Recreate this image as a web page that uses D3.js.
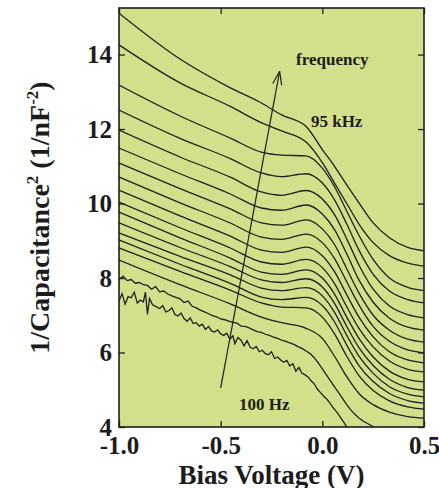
<!DOCTYPE html>
<html>
<head>
<meta charset="utf-8">
<script src="https://cdn.jsdelivr.net/npm/d3@7"></script>
<style>
  body { margin: 0; background: #fff; }
  svg text { font-family: "Liberation Serif", "Times New Roman", serif; font-weight: bold; fill: #1c1c1c; }
</style>
</head>
<body>
<svg width="439" height="488"></svg>
<script>
// bias grid for the smooth curves (V)
var biasV = [-1.0, -0.7, -0.45, -0.3, -0.2, -0.08, 0.0, 0.06, 0.12, 0.18, 0.25, 0.33, 0.42, 0.5];

// 1/C^2 curves, 95 kHz at the top down towards low frequency
var c0  = [15.11, 13.88, 13.10, 12.70, 12.38, 12.07, 11.45, 11.00, 10.50, 10.02, 9.48, 9.08, 8.82, 8.73];
var c1  = [14.26, 13.24, 12.60, 12.17, 11.95, 11.65, 11.10, 10.55, 10.00, 9.45, 8.95, 8.60, 8.40, 8.32];
var c2  = [13.18, 12.35, 11.75, 11.38, 11.30, 11.28, 10.95, 10.45, 9.80, 9.15, 8.50, 8.00, 7.75, 7.66];
var c3  = [12.51, 11.75, 11.20, 10.82, 10.72, 10.80, 10.55, 10.10, 9.45, 8.75, 8.10, 7.65, 7.42, 7.33];
var c4  = [11.97, 11.25, 10.70, 10.31, 10.22, 10.35, 10.12, 9.70, 9.05, 8.35, 7.70, 7.25, 7.02, 6.93];
var c5  = [11.49, 10.80, 10.25, 9.88, 9.82, 9.96, 9.72, 9.30, 8.65, 7.95, 7.35, 6.92, 6.68, 6.60];
var c6  = [11.09, 10.40, 9.85, 9.48, 9.42, 9.56, 9.32, 8.90, 8.25, 7.60, 7.00, 6.60, 6.36, 6.28];
var c7  = [10.71, 10.02, 9.47, 9.10, 9.04, 9.18, 8.95, 8.52, 7.90, 7.28, 6.70, 6.30, 6.07, 5.99];
var c8  = [10.36, 9.67, 9.12, 8.75, 8.69, 8.83, 8.60, 8.17, 7.55, 6.95, 6.42, 6.02, 5.80, 5.72];
var c9  = [10.04, 9.35, 8.80, 8.43, 8.37, 8.50, 8.28, 7.85, 7.23, 6.65, 6.15, 5.77, 5.55, 5.48];
var c10 = [9.77, 9.08, 8.53, 8.16, 8.10, 8.22, 8.00, 7.57, 6.95, 6.38, 5.88, 5.50, 5.28, 5.21];
var c11 = [9.48, 8.82, 8.30, 7.95, 7.88, 7.98, 7.76, 7.32, 6.70, 6.13, 5.65, 5.28, 5.06, 4.99];
var c12 = [9.21, 8.58, 8.08, 7.73, 7.66, 7.74, 7.52, 7.08, 6.46, 5.90, 5.44, 5.08, 4.88, 4.81];
var c13 = [9.02, 8.37, 7.85, 7.49, 7.42, 7.48, 7.26, 6.82, 6.20, 5.65, 5.22, 4.90, 4.71, 4.64];
var c14 = [8.81, 8.18, 7.67, 7.33, 7.22, 7.20, 6.95, 6.50, 5.90, 5.38, 4.98, 4.70, 4.54, 4.48];
var c15 = [8.48, 7.82, 7.30, 6.95, 6.80, 6.65, 6.38, 5.90, 5.35, 4.90, 4.60, 4.40, 4.28, 4.24];
var smoothCurves = [c0, c1, c2, c3, c4, c5, c6, c7, c8, c9, c10, c11, c12, c13, c14, c15];

// the two noisy low frequency traces
var biasN1 = [-1.00,-0.98,-0.96,-0.94,-0.92,-0.90,-0.88,-0.86,-0.84,-0.82,-0.80,-0.78,-0.76,-0.74,-0.72,-0.70,-0.68,-0.66,-0.64,-0.62,-0.60,-0.58,-0.56,-0.54,-0.52,-0.50,-0.48,-0.46,-0.44,-0.42,-0.40,-0.38,-0.36,-0.34,-0.32,-0.30,-0.28,-0.26,-0.24,-0.22,-0.20,-0.18,-0.16,-0.14,-0.12,-0.10,-0.08,-0.06,-0.04,-0.02,0.00,0.02,0.04,0.06,0.08,0.10,0.12,0.14,0.16,0.18,0.20,0.22,0.24,0.26];
var c16 = [7.96,8.05,7.93,7.96,7.86,7.88,7.82,7.80,7.70,7.77,7.63,7.65,7.57,7.52,7.48,7.44,7.34,7.38,7.24,7.20,7.14,7.09,7.04,6.99,6.96,6.90,6.88,6.84,6.81,6.79,6.71,6.70,6.66,6.61,6.56,6.54,6.49,6.46,6.41,6.38,6.33,6.30,6.26,6.22,6.16,6.11,6.04,5.97,5.86,5.72,5.56,5.40,5.24,5.08,4.92,4.76,4.60,4.46,4.34,4.24,4.16,4.10,4.04,3.98];

var biasN2 = [-1.000,-0.985,-0.970,-0.955,-0.940,-0.925,-0.910,-0.895,-0.880,-0.870,-0.860,-0.850,-0.835,-0.820,-0.800,-0.785,-0.770,-0.755,-0.740,-0.725,-0.710,-0.695,-0.680,-0.665,-0.650,-0.635,-0.620,-0.605,-0.590,-0.575,-0.560,-0.545,-0.530,-0.515,-0.500,-0.485,-0.470,-0.455,-0.440,-0.430,-0.415,-0.400,-0.385,-0.370,-0.355,-0.340,-0.325,-0.310,-0.295,-0.280,-0.265,-0.250,-0.235,-0.220,-0.205,-0.190,-0.175,-0.160,-0.145,-0.130,-0.115,-0.100,-0.085,-0.070,-0.055,-0.040,-0.025,-0.010,0.005,0.020,0.035,0.050,0.065,0.080,0.095,0.110,0.125];
var c17 = [7.38,7.58,7.30,7.50,7.47,7.62,7.33,7.41,7.36,7.62,7.02,7.45,7.28,7.24,7.18,7.26,7.09,7.12,7.20,7.02,6.98,7.06,6.91,6.84,6.93,6.78,6.80,6.71,6.76,6.62,6.70,6.58,6.55,6.61,6.50,6.46,6.52,6.36,6.45,6.24,6.40,6.33,6.18,6.32,6.14,6.10,6.16,6.02,6.06,5.97,5.94,6.02,5.84,5.88,5.80,5.74,5.79,5.64,5.70,5.50,5.60,5.44,5.40,5.34,5.24,5.16,5.02,4.93,4.84,4.76,4.66,4.54,4.44,4.33,4.21,4.09,3.96];

var xTicks = [-1.0, -0.5, 0.0, 0.5];
var yTicks = [4, 6, 8, 10, 12, 14];

// frequency arrow (V, 1/nF^2)
var arrowFrom = [-0.5, 5.05], arrowTo = [-0.21, 13.55];

var svg = d3.select("svg"),
    margin = {top: 8, right: 15, bottom: 61, left: 119},
    width = +svg.attr("width") - margin.left - margin.right,
    height = +svg.attr("height") - margin.top - margin.bottom;

var x = d3.scaleLinear().domain([-1.0, 0.5]).range([0, width]);
var y = d3.scaleLinear().domain([4, 15.25]).range([height, 0]);

var g = svg.append("g").attr("transform", "translate(" + margin.left + "," + margin.top + ")");

g.append("rect").attr("width", width).attr("height", height).attr("fill", "#d3e08b");

svg.append("defs").append("clipPath").attr("id", "plot")
  .append("rect").attr("width", width).attr("height", height);

var line = d3.line()
    .x(function(d) { return x(d[0]); })
    .y(function(d) { return y(d[1]); })
    .curve(d3.curveMonotoneX);

var curves = g.append("g").attr("clip-path", "url(#plot)")
    .attr("fill", "none").attr("stroke", "#1e1e1e").attr("stroke-width", 1.3);

smoothCurves.forEach(function(c) {
  curves.append("path").attr("d", line(d3.zip(biasV, c)));
});

var jagged = d3.line()
    .x(function(d) { return x(d[0]); })
    .y(function(d) { return y(d[1]); });

curves.append("path").attr("d", jagged(d3.zip(biasN1, c16)));
curves.append("path").attr("d", jagged(d3.zip(biasN2, c17)));

// arrow
var ax1 = x(arrowFrom[0]), ay1 = y(arrowFrom[1]), ax2 = x(arrowTo[0]), ay2 = y(arrowTo[1]);
var ang = Math.atan2(ay2 - ay1, ax2 - ax1);
g.append("line").attr("x1", ax1).attr("y1", ay1).attr("x2", ax2).attr("y2", ay2)
  .attr("stroke", "#1e1e1e").attr("stroke-width", 1.2);
[0.33, -0.33].forEach(function(da) {
  g.append("line")
    .attr("x1", ax2).attr("y1", ay2)
    .attr("x2", ax2 - 14 * Math.cos(ang + da)).attr("y2", ay2 - 14 * Math.sin(ang + da))
    .attr("stroke", "#1e1e1e").attr("stroke-width", 1.2);
});

// annotations
g.append("text").attr("x", x(-0.129)).attr("y", y(13.72)).style("font-size", "17px").text("frequency");
g.append("text").attr("x", x(-0.056)).attr("y", y(12.05)).style("font-size", "17px").text("95 kHz");
g.append("text").attr("x", x(-0.41)).attr("y", y(4.46)).style("font-size", "17px").text("100 Hz");

// axes, ticks pointing inwards on all four sides
function styleAxis(sel) {
  sel.select(".domain").remove();
  sel.selectAll(".tick line").attr("stroke", "#1e1e1e").attr("stroke-width", 1.3);
  sel.selectAll(".tick text").style("font-size", "25px").attr("fill", "#1c1c1c");
}

g.append("g").attr("transform", "translate(0," + height + ")")
  .call(d3.axisBottom(x).tickValues(xTicks).tickSize(-6).tickPadding(9)
    .tickFormat(function(d) { return d.toFixed(1); }))
  .call(styleAxis);
g.append("g")
  .call(d3.axisTop(x).tickValues(xTicks).tickSize(-6).tickFormat(""))
  .call(styleAxis);
g.append("g")
  .call(d3.axisLeft(y).tickValues(yTicks).tickSize(-6).tickPadding(7))
  .call(styleAxis);
g.append("g").attr("transform", "translate(" + width + ",0)")
  .call(d3.axisRight(y).tickValues(yTicks).tickSize(-6).tickFormat(""))
  .call(styleAxis);

g.selectAll(".tick text").attr("font-family", null);

g.append("rect").attr("width", width).attr("height", height)
  .attr("fill", "none").attr("stroke", "#1e1e1e").attr("stroke-width", 1.6);

// axis titles
svg.append("text").attr("x", margin.left + width / 2).attr("y", 484)
  .attr("text-anchor", "middle").style("font-size", "27px").text("Bias Voltage (V)");

var yt = svg.append("text")
  .attr("transform", "translate(49," + (margin.top + height / 2) + ") rotate(-90)")
  .attr("text-anchor", "middle").style("font-size", "28px");
yt.append("tspan").text("1/Capacitance");
yt.append("tspan").attr("dy", -11).style("font-size", "17px").text("2");
yt.append("tspan").attr("dy", 11).text(" (1/nF");
yt.append("tspan").attr("dy", -11).style("font-size", "17px").text("-2");
yt.append("tspan").attr("dy", 11).text(")");
</script>
</body>
</html>
